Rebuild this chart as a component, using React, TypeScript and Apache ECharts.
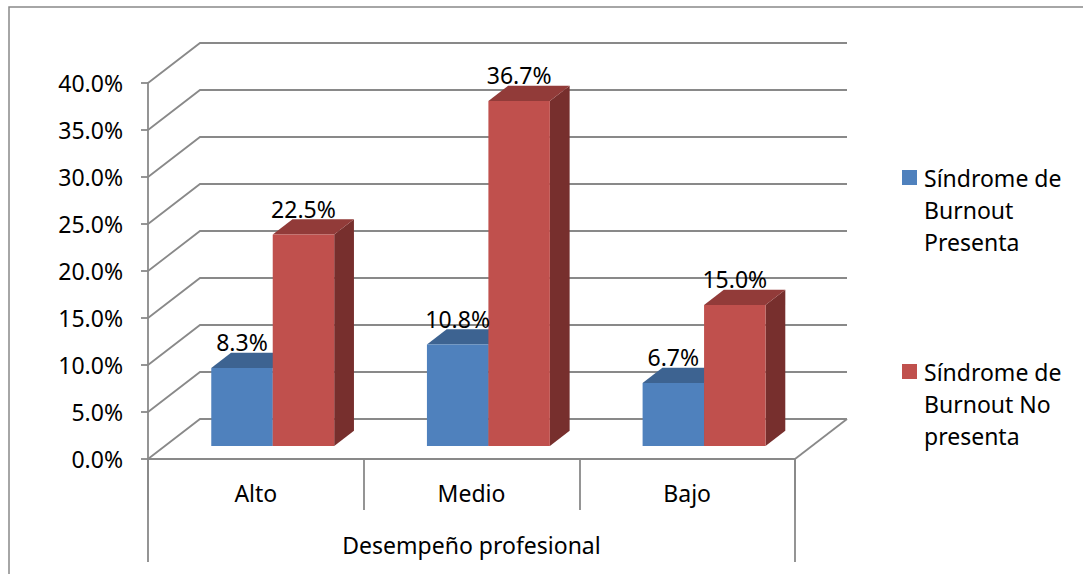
import React, { useEffect, useRef } from 'react';
import * as echarts from 'echarts';

const categories = ['Alto', 'Medio', 'Bajo'];
const seriesNames = ['Síndrome de Burnout Presenta', 'Síndrome de Burnout No presenta'];
const legendLabels = ['Síndrome de\nBurnout\nPresenta', 'Síndrome de\nBurnout No\npresenta'];
const presenta = [8.3, 10.8, 6.7];
const noPresenta = [22.5, 36.7, 15.0];
const yTicks = [0, 5, 10, 15, 20, 25, 30, 35, 40];
const axisTitle = 'Desempeño profesional';

const FONT = '"Noto Sans", sans-serif';
const FS = 23;
const GRAY = '#898989';
const DEPTH = [52, -40];
const BAR_FRONT = 0.325;
const BAR_DEPTH = 0.38;
const BAR_W = 0.285;

const BLUE = { front: '#4F81BD', top: '#3D6391', side: '#2F4D72' };
const RED = { front: '#C0504D', top: '#923B39', side: '#772F2D' };

function barRenderer(side: 'left' | 'right', colors: any) {
  return (params: any, api: any) => {
    const idx = api.value(0);
    const v = api.value(1);
    const base = api.coord([idx, 0]);
    const top = api.coord([idx, v]);
    const bw = api.size([1, 0])[0];
    const w = bw * BAR_W;
    const sx = DEPTH[0] * BAR_FRONT, sy = DEPTH[1] * BAR_FRONT;
    const dx = DEPTH[0] * BAR_DEPTH, dy = DEPTH[1] * BAR_DEPTH;
    const x0 = (side === 'left' ? base[0] - w : base[0]) + sx;
    const x1 = x0 + w;
    const yb = base[1] + sy;
    const yt = top[1] + sy;
    return {
      type: 'group',
      children: [
        { type: 'polygon', shape: { points: [[x1, yb], [x1, yt], [x1 + dx, yt + dy], [x1 + dx, yb + dy]] }, style: { fill: colors.side } },
        { type: 'polygon', shape: { points: [[x0, yt], [x1, yt], [x1 + dx, yt + dy], [x0 + dx, yt + dy]] }, style: { fill: colors.top } },
        { type: 'rect', shape: { x: x0, y: yt, width: w, height: yb - yt }, style: { fill: colors.front } },
        {
          type: 'text', z2: 50,
          style: { text: v.toFixed(1) + '%', x: (x0 + x1) / 2, y: yt + dy + 1, align: 'center', verticalAlign: 'bottom', fontSize: FS, fontFamily: FONT, fill: '#000' },
        },
      ],
    };
  };
}

function frameRenderer(params: any, api: any) {
  const bw = api.size([1, 0])[0];
  const left = api.coord([0, 0])[0] - bw / 2;
  const right = api.coord([categories.length - 1, 0])[0] + bw / 2;
  const y0 = api.coord([0, 0])[1];
  const children: any[] = [];
  const ls = { stroke: GRAY, lineWidth: 1.8, fill: null };
  yTicks.forEach((t) => {
    const y = api.coord([0, t])[1];
    children.push({
      type: 'polyline',
      shape: { points: [[left, y], [left + DEPTH[0], y + DEPTH[1]], [right + DEPTH[0], y + DEPTH[1]]] },
      style: ls,
    });
  });
  children.push({ type: 'line', shape: { x1: right, y1: y0, x2: right + DEPTH[0], y2: y0 + DEPTH[1] }, style: ls });
  children.push({ type: 'line', shape: { x1: left, y1: y0, x2: left, y2: y0 + 103 }, style: ls });
  children.push({ type: 'line', shape: { x1: right, y1: y0, x2: right, y2: y0 + 103 }, style: ls });
  return { type: 'group', children };
}

export default function App() {
  const ref = useRef<HTMLDivElement>(null);
  useEffect(() => {
    if (!ref.current) return;
    const chart = echarts.init(ref.current, null, { renderer: 'svg' });
    chart.setOption({
      animation: false,
      backgroundColor: '#fff',
      grid: { left: 148, top: 83, width: 647, height: 376 },
      xAxis: {
        type: 'category',
        data: categories,
        boundaryGap: true,
        axisLine: { show: true, lineStyle: { color: GRAY, width: 1.8 } },
        axisTick: { show: true, length: 51, lineStyle: { color: GRAY, width: 1.8 } },
        axisLabel: { fontSize: FS, fontFamily: FONT, color: '#000', margin: 22 },
        name: axisTitle,
        nameLocation: 'middle',
        nameGap: 74,
        nameTextStyle: { fontSize: FS, fontFamily: FONT, color: '#000' },
      },
      yAxis: {
        type: 'value',
        min: 0,
        max: 40,
        interval: 5,
        axisLine: { show: true, lineStyle: { color: GRAY, width: 1.8 } },
        axisTick: { show: true, length: 7, lineStyle: { color: GRAY, width: 1.8 } },
        splitLine: { show: false },
        axisLabel: { fontSize: FS, fontFamily: FONT, color: '#000', margin: 25, formatter: (v: number) => v.toFixed(1) + '%' },
      },
      graphic: [
        { type: 'polyline', shape: { points: [[9, 574], [9, 7], [1083, 7]] }, style: { stroke: GRAY, lineWidth: 1.5, fill: null } },
        { type: 'rect', shape: { x: 902, y: 170, width: 15, height: 15 }, style: { fill: BLUE.front } },
        { type: 'text', x: 924, y: 162, style: { text: legendLabels[0], fontSize: FS, fontFamily: FONT, fill: '#000', lineHeight: 32, verticalAlign: 'top' } },
        { type: 'rect', shape: { x: 902, y: 364, width: 15, height: 15 }, style: { fill: RED.front } },
        { type: 'text', x: 924, y: 356, style: { text: legendLabels[1], fontSize: FS, fontFamily: FONT, fill: '#000', lineHeight: 32, verticalAlign: 'top' } },
      ],
      series: [
        { type: 'custom', name: 'frame', z: 1, silent: true, data: [[0, 0]], renderItem: frameRenderer },
        { type: 'custom', name: seriesNames[0], z: 2, data: presenta.map((v, i) => [i, v]), encode: { x: 0, y: 1 }, renderItem: barRenderer('left', BLUE) },
        { type: 'custom', name: seriesNames[1], z: 2, data: noPresenta.map((v, i) => [i, v]), encode: { x: 0, y: 1 }, renderItem: barRenderer('right', RED) },
      ],
    });
    return () => chart.dispose();
  }, []);
  return <div ref={ref} style={{ position: 'absolute', left: 0, top: 0, width: 1083, height: 574 }} />;
}
